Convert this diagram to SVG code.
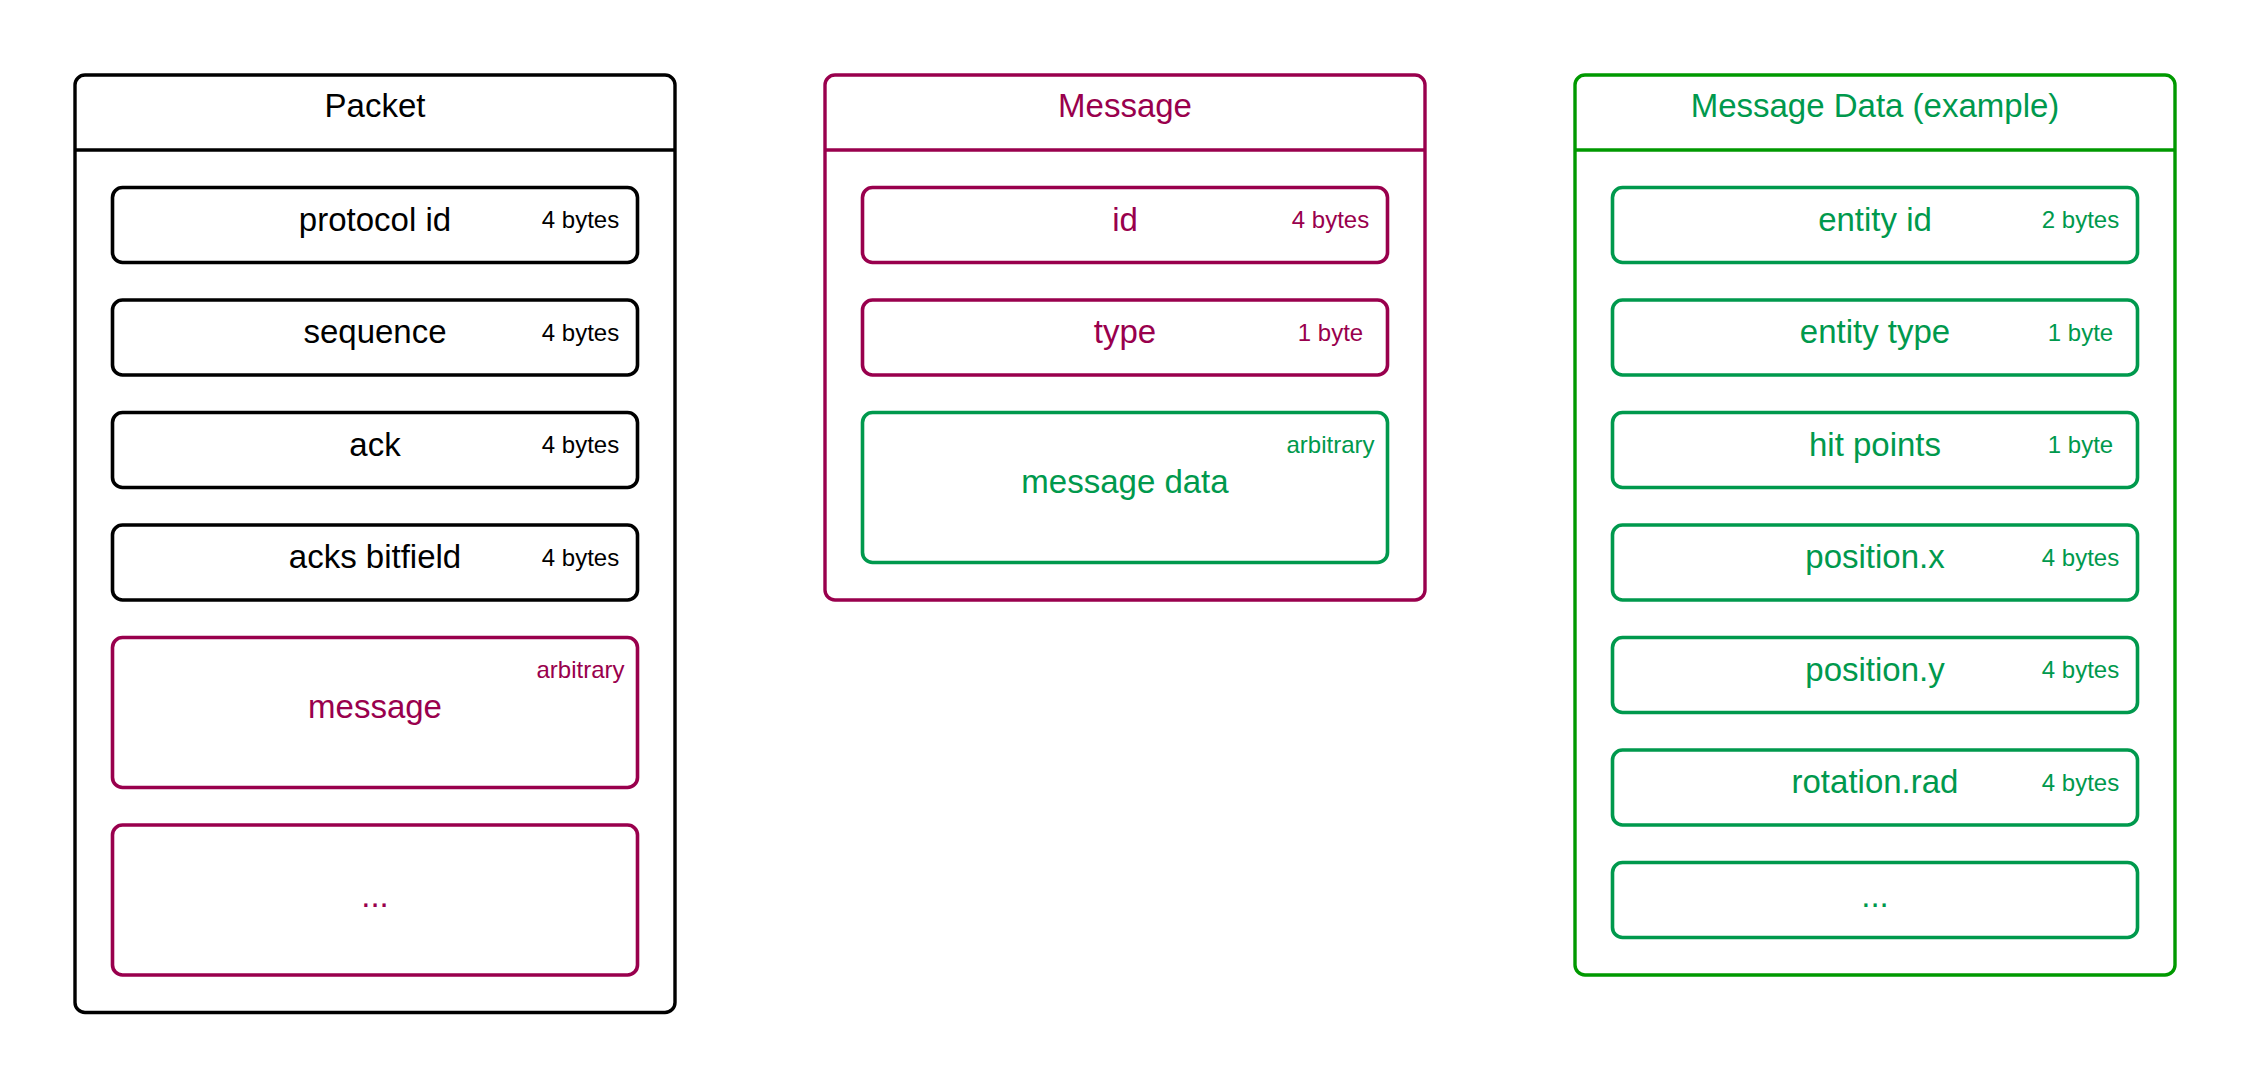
<svg xmlns="http://www.w3.org/2000/svg" width="2250" height="1088" viewBox="0 0 2250 1088">
<style>
text{font-family:"Liberation Sans",Arial,sans-serif;text-anchor:middle}
.big{font-size:33px}
.sm{font-size:24px}
.outer{fill:#fff;stroke-width:3.4}
.field{fill:#fff;stroke-width:3.6}
.k{stroke:#000}.kt{fill:#000}
.r{stroke:#99004D}.rt{fill:#99004D}
.g{stroke:#00994D}.gt{fill:#00994D}
.G{stroke:#009900}
</style>
<rect width="2250" height="1088" fill="#fff"/>
<g id="connectors"/>
<g id="packet">
<rect class="outer k" x="75" y="75" width="600" height="937.5" rx="10"/>
<line class="k" x1="75" y1="150" x2="675" y2="150" stroke-width="3.4"/>
<text class="big kt" x="375" y="117">Packet</text>
</g>
<g id="packet-protocol-id">
<rect class="field k" x="112.5" y="187.5" width="525" height="75" rx="10"/>
<text class="big kt" x="375" y="230.5">protocol id</text>
<text class="sm kt" x="580.5" y="228">4 bytes</text>
</g>
<g id="packet-sequence">
<rect class="field k" x="112.5" y="300" width="525" height="75" rx="10"/>
<text class="big kt" x="375" y="343">sequence</text>
<text class="sm kt" x="580.5" y="340.5">4 bytes</text>
</g>
<g id="packet-ack">
<rect class="field k" x="112.5" y="412.5" width="525" height="75" rx="10"/>
<text class="big kt" x="375" y="455.5">ack</text>
<text class="sm kt" x="580.5" y="453">4 bytes</text>
</g>
<g id="packet-acks-bitfield">
<rect class="field k" x="112.5" y="525" width="525" height="75" rx="10"/>
<text class="big kt" x="375" y="568">acks bitfield</text>
<text class="sm kt" x="580.5" y="565.5">4 bytes</text>
</g>
<g id="packet-message">
<rect class="field r" x="112.5" y="637.5" width="525" height="150" rx="10"/>
<text class="big rt" x="375" y="717.5">message</text>
<text class="sm rt" x="580.5" y="677.5">arbitrary</text>
</g>
<g id="packet-more">
<rect class="field r" x="112.5" y="825" width="525" height="150" rx="10"/>
<text class="big rt" x="375" y="906.5">...</text>
</g>
<g id="message">
<rect class="outer r" x="825" y="75" width="600" height="525" rx="10"/>
<line class="r" x1="825" y1="150" x2="1425" y2="150" stroke-width="3.4"/>
<text class="big rt" x="1125" y="117">Message</text>
</g>
<g id="message-id">
<rect class="field r" x="862.5" y="187.5" width="525" height="75" rx="10"/>
<text class="big rt" x="1125" y="230.5">id</text>
<text class="sm rt" x="1330.5" y="228">4 bytes</text>
</g>
<g id="message-type">
<rect class="field r" x="862.5" y="300" width="525" height="75" rx="10"/>
<text class="big rt" x="1125" y="343">type</text>
<text class="sm rt" x="1330.5" y="340.5">1 byte</text>
</g>
<g id="message-data">
<rect class="field g" x="862.5" y="412.5" width="525" height="150" rx="10"/>
<text class="big gt" x="1125" y="492.5">message data</text>
<text class="sm gt" x="1330.5" y="452.5">arbitrary</text>
</g>
<g id="data">
<rect class="outer G" x="1575" y="75" width="600" height="900" rx="10"/>
<line class="G" x1="1575" y1="150" x2="2175" y2="150" stroke-width="3.4"/>
<text class="big gt" x="1875" y="117">Message Data (example)</text>
</g>
<g id="data-entity-id">
<rect class="field g" x="1612.5" y="187.5" width="525" height="75" rx="10"/>
<text class="big gt" x="1875" y="230.5">entity id</text>
<text class="sm gt" x="2080.5" y="228">2 bytes</text>
</g>
<g id="data-entity-type">
<rect class="field g" x="1612.5" y="300" width="525" height="75" rx="10"/>
<text class="big gt" x="1875" y="343">entity type</text>
<text class="sm gt" x="2080.5" y="340.5">1 byte</text>
</g>
<g id="data-hit-points">
<rect class="field g" x="1612.5" y="412.5" width="525" height="75" rx="10"/>
<text class="big gt" x="1875" y="455.5">hit points</text>
<text class="sm gt" x="2080.5" y="453">1 byte</text>
</g>
<g id="data-position-x">
<rect class="field g" x="1612.5" y="525" width="525" height="75" rx="10"/>
<text class="big gt" x="1875" y="568">position.x</text>
<text class="sm gt" x="2080.5" y="565.5">4 bytes</text>
</g>
<g id="data-position-y">
<rect class="field g" x="1612.5" y="637.5" width="525" height="75" rx="10"/>
<text class="big gt" x="1875" y="680.5">position.y</text>
<text class="sm gt" x="2080.5" y="678">4 bytes</text>
</g>
<g id="data-rotation-rad">
<rect class="field g" x="1612.5" y="750" width="525" height="75" rx="10"/>
<text class="big gt" x="1875" y="793">rotation.rad</text>
<text class="sm gt" x="2080.5" y="790.5">4 bytes</text>
</g>
<g id="data-more">
<rect class="field g" x="1612.5" y="862.5" width="525" height="75" rx="10"/>
<text class="big gt" x="1875" y="906.5">...</text>
</g>
</svg>
